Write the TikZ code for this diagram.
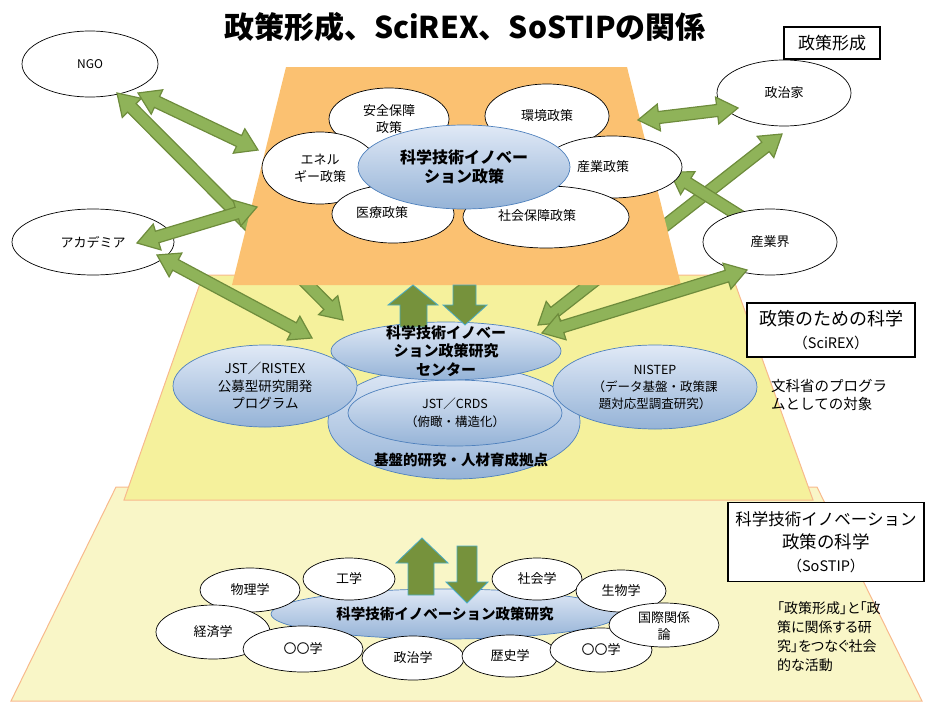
\documentclass[tikz,border=0pt]{standalone}
\usepackage{fontspec}
\setmainfont{Noto Sans CJK JP}
\newfontfamily\pfont[RawFeature=+palt]{Noto Sans CJK JP}
\usetikzlibrary{shapes.geometric,calc}
\definecolor{orng}{RGB}{251,193,113}
\definecolor{ylw}{RGB}{245,241,156}
\definecolor{pale}{RGB}{249,246,199}
\definecolor{salmon}{RGB}{248,185,140}
\definecolor{gfill}{RGB}{143,179,89}
\definecolor{gline}{RGB}{110,140,60}
\definecolor{olive}{RGB}{118,146,60}
\definecolor{aqua}{RGB}{75,172,198}
\definecolor{btop}{RGB}{224,233,246}
\definecolor{bbot}{RGB}{149,179,215}
\definecolor{bline}{RGB}{79,129,189}
\newcommand\fs[2]{\fontsize{#1}{#2}\selectfont}
\def\aL{21pt}\def\aH{13.5pt}\def\aW{6pt}
\newcommand\gdarrow[2]{%
 \filldraw[garrow] (#1) -- ($(#1)!\aL!(#2)!\aH!90:(#2)$) -- ($(#1)!\aL!(#2)!\aW!90:(#2)$)
 -- ($(#2)!\aL!(#1)!\aW!-90:(#1)$) -- ($(#2)!\aL!(#1)!\aH!-90:(#1)$) -- (#2)
 -- ($(#2)!\aL!(#1)!\aH!90:(#1)$) -- ($(#2)!\aL!(#1)!\aW!90:(#1)$)
 -- ($(#1)!\aL!(#2)!\aW!-90:(#2)$) -- ($(#1)!\aL!(#2)!\aH!-90:(#2)$) -- cycle;}
\begin{document}
\begin{tikzpicture}[x=1pt,y=-1pt,
 wel/.style={ellipse, draw=black, fill=white, line width=0.7pt, inner sep=0pt, font=\fs{13}{17}, align=center},
 bel/.style={ellipse, draw=bline, line width=0.7pt, top color=btop, bottom color=bbot, inner sep=0pt, align=center},
 txt/.style={inner sep=0pt, align=center},
 layer/.style={draw=salmon, line width=1pt},
 garrow/.style={fill=gfill, draw=gline, line width=1.2pt, line join=miter},
 barrow/.style={fill=olive, draw=aqua, line width=0.8pt},
 box/.style={draw=black, line width=1.6pt, fill=white, inner sep=0pt, align=center}]
\useasboundingbox (0,0) rectangle (925,701);
% layers
\filldraw[layer, fill=pale] (116,487) -- (817,487) -- (922,701) -- (11,701) -- cycle;
\filldraw[layer, fill=ylw] (203,275) -- (732,275) -- (813,500) -- (124,500) -- cycle;
% actors (drawn below the arrows)
\node[wel, minimum width=136pt, minimum height=66pt, font=\fs{12}{15}] (ngo) at (90,64) {NGO};
\node[wel, minimum width=162pt, minimum height=66pt] (acad) at (93,242) {アカデミア};
\node[wel, minimum width=134pt, minimum height=66pt] (pol) at (784,93) {政治家};
% arrow end points
\coordinate (a1s) at (138,93);  \coordinate (a1e) at (258,150);
\coordinate (a2s) at (117,93);  \coordinate (a2e) at (343,320);
\coordinate (a3s) at (137,243); \coordinate (a3e) at (257,207);
\coordinate (a4s) at (157,255); \coordinate (a4e) at (312,338);
\coordinate (a5s) at (638,120); \coordinate (a5e) at (738,108);
\coordinate (a6s) at (782,134); \coordinate (a6e) at (538,325);
\coordinate (a7s) at (670,172); \coordinate (a7e) at (770,235);
\coordinate (a8s) at (747,270); \coordinate (a8e) at (542,333);
% long arrows under the orange layer
\gdarrow{a2s}{a2e}
\gdarrow{a6s}{a6e}
\gdarrow{a4s}{a4e}
% orange layer
\fill[orng] (286,67) -- (627,67) -- (681,285) -- (232,285) -- cycle;
% short arrows
\gdarrow{a1s}{a1e}
\gdarrow{a3s}{a3e}
\gdarrow{a5s}{a5e}
\gdarrow{a7s}{a7e}
\node[wel, minimum width=134pt, minimum height=66pt] (ind) at (770,242) {産業界};
\gdarrow{a8s}{a8e}
% policy petals
\node[wel, minimum width=120pt, minimum height=62pt] (anzen) at (389,119) {安全保障\\政策};
\node[wel, minimum width=124pt, minimum height=64pt] (kankyo) at (547,116) {環境政策};
\node[wel, minimum width=116pt, minimum height=72pt] (energy) at (320,168) {エネル\\ギー政策};
\node[wel, minimum width=140pt, minimum height=62pt] (sangyo) at (612,167) {};
\node[txt, font=\fs{13}{17}] (sangyot) at (603,167) {産業政策};
\node[wel, minimum width=122pt, minimum height=58pt] (iryo) at (393,214) {};
\node[txt, font=\fs{13}{17}] (iryot) at (382,213) {医療政策};
\node[wel, minimum width=166pt, minimum height=62pt] (shakai) at (546,217) {};
\node[txt, font=\fs{13}{17}] (shakait) at (537,216) {社会保障政策};
\node[bel, minimum width=212pt, minimum height=84pt, font=\fs{16}{19.5}\bfseries] (stip) at (464,167) {科学技術イノベー\\ション政策};
% SciREX layer
\node[bel, minimum width=252pt, minimum height=114pt] (base) at (454,422) {};
\node[bel, minimum width=214pt, minimum height=66pt, font=\fs{12.5}{18}] (crds) at (455,413) {JST／CRDS\\（俯瞰・構造化）};
\node[bel, minimum width=184pt, minimum height=82pt, font=\fs{13.5}{17.5}] (ristex) at (265,386) {JST／RISTEX\\公募型研究開発\\プログラム};
\node[bel, minimum width=204pt, minimum height=84pt, font=\fs{12.5}{17}] (nistep) at (655,387) {NISTEP\\（データ基盤・政策課\\題対応型調査研究）};
\node[bel, minimum width=230pt, minimum height=58pt] (center) at (446,351) {};
\node[txt, font=\fs{14.5}{17}\bfseries] (baset) at (461,460) {基盤的研究・人材育成拠点};
% block arrows between top and SciREX
\filldraw[barrow] (413,285) -- (438,305) -- (427,305) -- (427,327) -- (400,327) -- (400,305) -- (388,305) -- cycle;
\filldraw[barrow] (465,325) -- (487,305) -- (476,305) -- (476,285) -- (453,285) -- (453,305) -- (443,305) -- cycle;
\node[txt, font=\fs{15}{18.5}\bfseries] (centert) at (446,351) {科学技術イノベー\\ション政策研究\\センター};
% SoSTIP layer
\node[bel, minimum width=348pt, minimum height=50pt, font=\fs{14.5}{17}\bfseries] (sostip) at (445,614) {科学技術イノベーション政策研究};
\filldraw[barrow] (422,538) -- (448,563) -- (434,563) -- (434,595) -- (408,595) -- (408,563) -- (396,563) -- cycle;
\filldraw[barrow] (467,603) -- (488,582) -- (477,582) -- (477,546) -- (457,546) -- (457,582) -- (446,582) -- cycle;
\node[wel, minimum width=100pt, minimum height=44pt] (phys) at (250,590) {物理学};
\node[wel, minimum width=92pt, minimum height=42pt] (eng) at (349,579) {工学};
\node[wel, minimum width=90pt, minimum height=42pt] (soc) at (537,579) {社会学};
\node[wel, minimum width=90pt, minimum height=42pt] (bio) at (621,591) {生物学};
\node[wel, minimum width=114pt, minimum height=54pt] (econ) at (213,632) {経済学};
\node[wel, minimum width=120pt, minimum height=46pt] (oo1) at (303,649) {〇〇学};
\node[wel, minimum width=102pt, minimum height=44pt] (polsci) at (413,658) {政治学};
\node[wel, minimum width=96pt, minimum height=42pt] (hist) at (510,656) {歴史学};
\node[wel, minimum width=102pt, minimum height=44pt] (oo2) at (601,650) {〇〇学};
\node[wel, minimum width=110pt, minimum height=44pt] (intl) at (664,625) {};
\node[txt, font=\fs{13}{17}] (intlt) at (664,626) {国際関係\\論};
% title and labels
\node[txt, font=\fs{30}{36}\bfseries] (title) at (465,27) {政策形成、SciREX、SoSTIPの関係};
\node[box, minimum width=96pt, minimum height=32pt, font=\fs{17}{20}] (bx1) at (832,43) {政策形成};
\node[box, minimum width=168pt, minimum height=54pt, font=\fs{18}{23}] (bx2) at (831,330) {政策のための科学\\{\fs{14.5}{23}（SciREX）}};
\node[box, minimum width=196pt, minimum height=79pt, font=\fs{16.5}{23}] (bx3) at (826,542) {科学技術イノベーション\\{\fs{17.5}{23}政策の科学}\\{\fs{14.5}{23}（SoSTIP）}};
\node[txt, align=left, anchor=west, font=\fs{14.5}{17.5}] (note1) at (771,395) {文科省のプログラ\\ムとしての対象};
\node[txt, align=left, anchor=west, font=\pfont\fs{14}{19}] (note2) at (777,637) {「政策形成」と「政\\策に関係する研\\究」をつなぐ社会\\的な活動};
\end{tikzpicture}
\end{document}
